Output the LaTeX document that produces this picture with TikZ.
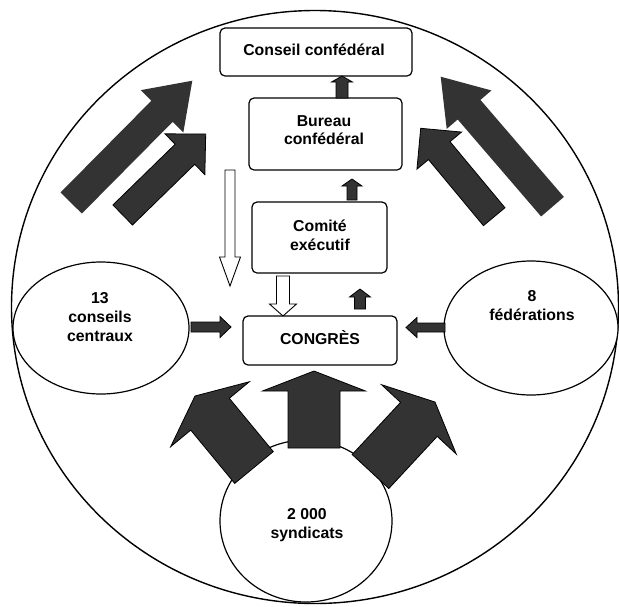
\documentclass[tikz,border=0pt]{standalone}
\usepackage{fontspec}
\setmainfont{Liberation Sans}
\usetikzlibrary{calc,shapes.geometric}
\definecolor{arrowgray}{RGB}{51,51,51}
% block arrow: #1 style, #2 start, #3 tip, #4 half shaft, #5 half head, #6 head length
\newcommand\blockarrow[6]{%
  \coordinate (bahead) at ($(#3)!#6!(#2)$);
  \path[#1] ($(#2)!#4!90:(#3)$) -- ($(bahead)!#4!90:(#3)$) -- ($(bahead)!#5!90:(#3)$)
    -- (#3) -- ($(bahead)!#5!-90:(#3)$) -- ($(bahead)!#4!-90:(#3)$)
    -- ($(#2)!#4!-90:(#3)$) -- cycle;}
\begin{document}
\begin{tikzpicture}[x=1pt,y=-1pt,
  lbl/.style={font=\bfseries\fontsize{15.8pt}{18.7pt}\selectfont, align=center, inner sep=0pt},
  box/.style={draw, rounded corners=5pt, line width=1.2pt, inner sep=0pt},
  oval/.style={draw, ellipse, line width=1.2pt, inner sep=0pt, fill=white},
  bigdark/.style={fill=arrowgray},
  darkarrow/.style={fill=arrowgray, draw=black, line width=0.8pt},
  hollowarrow/.style={fill=white, draw=black, line width=0.9pt}]
\useasboundingbox (0,0) rectangle (619,606);
% outer circle
\node[draw, ellipse, line width=1.4pt, inner sep=0pt, minimum width=607pt, minimum height=593pt] (outer) at (315,307) {};
% boxes
\node[box, minimum width=192pt, minimum height=48pt] (conseil) at (316,52) {};
\node[box, minimum width=153pt, minimum height=72pt] (bureau) at (325.5,134) {};
\node[box, minimum width=135pt, minimum height=71pt] (comite) at (319.5,237.5) {};
\node[box, minimum width=154pt, minimum height=49pt] (congres) at (320,340.5) {};
% ovals
\node[oval, minimum width=176pt, minimum height=132pt] (centraux) at (101,328) {};
\node[oval, minimum width=174pt, minimum height=134pt] (federations) at (531,328) {};
\node[oval, minimum width=172pt, minimum height=162pt] (syndicats) at (306,521) {};
% texts
\node[lbl, anchor=base] (conseilt) at (314,55) {Conseil confédéral};
\node[lbl] (bureaut) at (324,130) {Bureau\\confédéral};
\node[lbl] (comitet) at (320,235) {Comité\\exécutif};
\node[lbl, anchor=base] (congrest) at (320,344) {CONGRÈS};
\node[lbl] (centrauxt) at (100,317) {13\\conseils\\centraux};
\node[lbl] (federationst) at (532,305.5) {8\\fédérations};
\node[lbl] (syndicatst) at (307,525) {2~000\\syndicats};
% arrow end points
\coordinate (ulbA) at (71.2,203);   \coordinate (ulbB) at (192.3,80.7);
\coordinate (ulsA) at (122.7,215);  \coordinate (ulsB) at (205.7,134);
\coordinate (urbA) at (552.5,206.7); \coordinate (urbB) at (440.7,76.7);
\coordinate (ursA) at (494.2,216.7); \coordinate (ursB) at (420.7,128.3);
\coordinate (bcA) at (314,448);     \coordinate (bcB) at (314,371);
\coordinate (blA) at (254,467.5);   \coordinate (blB) at (195,396);
\coordinate (brA) at (370.5,471.5); \coordinate (brB) at (435,402);
\coordinate (a1A) at (342,98);      \coordinate (a1B) at (342,76);
\coordinate (a2A) at (352,200);     \coordinate (a2B) at (352,179);
\coordinate (a3A) at (360,309);     \coordinate (a3B) at (360,289);
\coordinate (a4A) at (191,327);     \coordinate (a4B) at (231,327);
\coordinate (a5A) at (445,327.5);   \coordinate (a5B) at (406,327.5);
\coordinate (h1A) at (230,170);     \coordinate (h1B) at (230,286);
\coordinate (h2A) at (283,276);     \coordinate (h2B) at (283,316);
% upper arrows
\blockarrow{bigdark}{ulbA}{ulbB}{15pt}{30pt}{43pt}
\blockarrow{darkarrow}{ulsA}{ulsB}{14pt}{28.5pt}{29pt}
\blockarrow{bigdark}{urbA}{urbB}{15pt}{29.5pt}{43.5pt}
\blockarrow{darkarrow}{ursA}{ursB}{14pt}{29pt}{29pt}
% bottom arrows
\blockarrow{darkarrow}{bcA}{bcB}{26pt}{51.5pt}{20pt}
\blockarrow{darkarrow}{blA}{blB}{25pt}{51pt}{23.6pt}
\blockarrow{darkarrow}{brA}{brB}{25pt}{51pt}{23.7pt}
% small arrows
\blockarrow{darkarrow}{a1A}{a1B}{6pt}{10.5pt}{6pt}
\blockarrow{darkarrow}{a2A}{a2B}{5pt}{10pt}{7pt}
\blockarrow{darkarrow}{a3A}{a3B}{5.5pt}{10.5pt}{8pt}
\blockarrow{darkarrow}{a4A}{a4B}{5pt}{10.5pt}{11pt}
\blockarrow{darkarrow}{a5A}{a5B}{4.5pt}{10pt}{11pt}
% hollow arrows
\blockarrow{hollowarrow}{h1A}{h1B}{5pt}{10.5pt}{29pt}
\blockarrow{hollowarrow}{h2A}{h2B}{6.5pt}{13.5pt}{12pt}
\end{tikzpicture}
\end{document}
